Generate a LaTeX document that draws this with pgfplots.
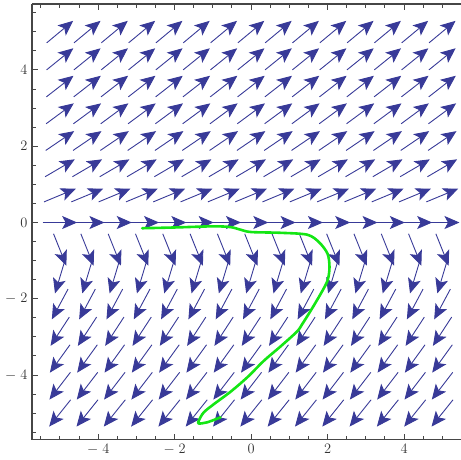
\documentclass[border=0pt]{standalone}
\usepackage{pgfplots}
\pgfplotsset{compat=1.18}
\usepackage{pgfplotstable}
\usetikzlibrary{arrows.meta}
\definecolor{vecblue}{RGB}{56,58,152}
\definecolor{framegray}{RGB}{70,70,70}
\definecolor{pen}{RGB}{20,230,20}

% grid point x, y and arrow vector u, v (arrows centred on the grid point)
\pgfplotstableread{
x y u v
-5 -5 -0.5622 -0.7028
-4.2857 -5 -0.5622 -0.7028
-3.5714 -5 -0.5622 -0.7028
-2.8571 -5 -0.5622 -0.7028
-2.1429 -5 -0.5622 -0.7028
-1.4286 -5 -0.5622 -0.7028
-0.7143 -5 -0.5622 -0.7028
0 -5 -0.5622 -0.7028
0.7143 -5 -0.5622 -0.7028
1.4286 -5 -0.5622 -0.7028
2.1429 -5 -0.5622 -0.7028
2.8571 -5 -0.5622 -0.7028
3.5714 -5 -0.5622 -0.7028
4.2857 -5 -0.5622 -0.7028
5 -5 -0.5622 -0.7028
-5 -4.2857 -0.5476 -0.7142
-4.2857 -4.2857 -0.5476 -0.7142
-3.5714 -4.2857 -0.5476 -0.7142
-2.8571 -4.2857 -0.5476 -0.7142
-2.1429 -4.2857 -0.5476 -0.7142
-1.4286 -4.2857 -0.5476 -0.7142
-0.7143 -4.2857 -0.5476 -0.7142
0 -4.2857 -0.5476 -0.7142
0.7143 -4.2857 -0.5476 -0.7142
1.4286 -4.2857 -0.5476 -0.7142
2.1429 -4.2857 -0.5476 -0.7142
2.8571 -4.2857 -0.5476 -0.7142
3.5714 -4.2857 -0.5476 -0.7142
4.2857 -4.2857 -0.5476 -0.7142
5 -4.2857 -0.5476 -0.7142
-5 -3.5714 -0.5259 -0.7304
-4.2857 -3.5714 -0.5259 -0.7304
-3.5714 -3.5714 -0.5259 -0.7304
-2.8571 -3.5714 -0.5259 -0.7304
-2.1429 -3.5714 -0.5259 -0.7304
-1.4286 -3.5714 -0.5259 -0.7304
-0.7143 -3.5714 -0.5259 -0.7304
0 -3.5714 -0.5259 -0.7304
0.7143 -3.5714 -0.5259 -0.7304
1.4286 -3.5714 -0.5259 -0.7304
2.1429 -3.5714 -0.5259 -0.7304
2.8571 -3.5714 -0.5259 -0.7304
3.5714 -3.5714 -0.5259 -0.7304
4.2857 -3.5714 -0.5259 -0.7304
5 -3.5714 -0.5259 -0.7304
-5 -2.8571 -0.4905 -0.7546
-4.2857 -2.8571 -0.4905 -0.7546
-3.5714 -2.8571 -0.4905 -0.7546
-2.8571 -2.8571 -0.4905 -0.7546
-2.1429 -2.8571 -0.4905 -0.7546
-1.4286 -2.8571 -0.4905 -0.7546
-0.7143 -2.8571 -0.4905 -0.7546
0 -2.8571 -0.4905 -0.7546
0.7143 -2.8571 -0.4905 -0.7546
1.4286 -2.8571 -0.4905 -0.7546
2.1429 -2.8571 -0.4905 -0.7546
2.8571 -2.8571 -0.4905 -0.7546
3.5714 -2.8571 -0.4905 -0.7546
4.2857 -2.8571 -0.4905 -0.7546
5 -2.8571 -0.4905 -0.7546
-5 -2.1429 -0.4235 -0.7942
-4.2857 -2.1429 -0.4235 -0.7942
-3.5714 -2.1429 -0.4235 -0.7942
-2.8571 -2.1429 -0.4235 -0.7942
-2.1429 -2.1429 -0.4235 -0.7942
-1.4286 -2.1429 -0.4235 -0.7942
-0.7143 -2.1429 -0.4235 -0.7942
0 -2.1429 -0.4235 -0.7942
0.7143 -2.1429 -0.4235 -0.7942
1.4286 -2.1429 -0.4235 -0.7942
2.1429 -2.1429 -0.4235 -0.7942
2.8571 -2.1429 -0.4235 -0.7942
3.5714 -2.1429 -0.4235 -0.7942
4.2857 -2.1429 -0.4235 -0.7942
5 -2.1429 -0.4235 -0.7942
-5 -1.4286 -0.2587 -0.8620
-4.2857 -1.4286 -0.2587 -0.8620
-3.5714 -1.4286 -0.2587 -0.8620
-2.8571 -1.4286 -0.2587 -0.8620
-2.1429 -1.4286 -0.2587 -0.8620
-1.4286 -1.4286 -0.2587 -0.8620
-0.7143 -1.4286 -0.2587 -0.8620
0 -1.4286 -0.2587 -0.8620
0.7143 -1.4286 -0.2587 -0.8620
1.4286 -1.4286 -0.2587 -0.8620
2.1429 -1.4286 -0.2587 -0.8620
2.8571 -1.4286 -0.2587 -0.8620
3.5714 -1.4286 -0.2587 -0.8620
4.2857 -1.4286 -0.2587 -0.8620
5 -1.4286 -0.2587 -0.8620
-5 -0.7143 0.3343 -0.8357
-4.2857 -0.7143 0.3343 -0.8357
-3.5714 -0.7143 0.3343 -0.8357
-2.8571 -0.7143 0.3343 -0.8357
-2.1429 -0.7143 0.3343 -0.8357
-1.4286 -0.7143 0.3343 -0.8357
-0.7143 -0.7143 0.3343 -0.8357
0 -0.7143 0.3343 -0.8357
0.7143 -0.7143 0.3343 -0.8357
1.4286 -0.7143 0.3343 -0.8357
2.1429 -0.7143 0.3343 -0.8357
2.8571 -0.7143 0.3343 -0.8357
3.5714 -0.7143 0.3343 -0.8357
4.2857 -0.7143 0.3343 -0.8357
5 -0.7143 0.3343 -0.8357
-5 0 0.9 0
-4.2857 0 0.9 0
-3.5714 0 0.9 0
-2.8571 0 0.9 0
-2.1429 0 0.9 0
-1.4286 0 0.9 0
-0.7143 0 0.9 0
0 0 0.9 0
0.7143 0 0.9 0
1.4286 0 0.9 0
2.1429 0 0.9 0
2.8571 0 0.9 0
3.5714 0 0.9 0
4.2857 0 0.9 0
5 0 0.9 0
-5 0.7143 0.8308 0.3461
-4.2857 0.7143 0.8308 0.3461
-3.5714 0.7143 0.8308 0.3461
-2.8571 0.7143 0.8308 0.3461
-2.1429 0.7143 0.8308 0.3461
-1.4286 0.7143 0.8308 0.3461
-0.7143 0.7143 0.8308 0.3461
0 0.7143 0.8308 0.3461
0.7143 0.7143 0.8308 0.3461
1.4286 0.7143 0.8308 0.3461
2.1429 0.7143 0.8308 0.3461
2.8571 0.7143 0.8308 0.3461
3.5714 0.7143 0.8308 0.3461
4.2857 0.7143 0.8308 0.3461
5 0.7143 0.8308 0.3461
-5 1.4286 0.7757 0.4563
-4.2857 1.4286 0.7757 0.4563
-3.5714 1.4286 0.7757 0.4563
-2.8571 1.4286 0.7757 0.4563
-2.1429 1.4286 0.7757 0.4563
-1.4286 1.4286 0.7757 0.4563
-0.7143 1.4286 0.7757 0.4563
0 1.4286 0.7757 0.4563
0.7143 1.4286 0.7757 0.4563
1.4286 1.4286 0.7757 0.4563
2.1429 1.4286 0.7757 0.4563
2.8571 1.4286 0.7757 0.4563
3.5714 1.4286 0.7757 0.4563
4.2857 1.4286 0.7757 0.4563
5 1.4286 0.7757 0.4563
-5 2.1429 0.7436 0.5070
-4.2857 2.1429 0.7436 0.5070
-3.5714 2.1429 0.7436 0.5070
-2.8571 2.1429 0.7436 0.5070
-2.1429 2.1429 0.7436 0.5070
-1.4286 2.1429 0.7436 0.5070
-0.7143 2.1429 0.7436 0.5070
0 2.1429 0.7436 0.5070
0.7143 2.1429 0.7436 0.5070
1.4286 2.1429 0.7436 0.5070
2.1429 2.1429 0.7436 0.5070
2.8571 2.1429 0.7436 0.5070
3.5714 2.1429 0.7436 0.5070
4.2857 2.1429 0.7436 0.5070
5 2.1429 0.7436 0.5070
-5 2.8571 0.7232 0.5357
-4.2857 2.8571 0.7232 0.5357
-3.5714 2.8571 0.7232 0.5357
-2.8571 2.8571 0.7232 0.5357
-2.1429 2.8571 0.7232 0.5357
-1.4286 2.8571 0.7232 0.5357
-0.7143 2.8571 0.7232 0.5357
0 2.8571 0.7232 0.5357
0.7143 2.8571 0.7232 0.5357
1.4286 2.8571 0.7232 0.5357
2.1429 2.8571 0.7232 0.5357
2.8571 2.8571 0.7232 0.5357
3.5714 2.8571 0.7232 0.5357
4.2857 2.8571 0.7232 0.5357
5 2.8571 0.7232 0.5357
-5 3.5714 0.7092 0.5540
-4.2857 3.5714 0.7092 0.5540
-3.5714 3.5714 0.7092 0.5540
-2.8571 3.5714 0.7092 0.5540
-2.1429 3.5714 0.7092 0.5540
-1.4286 3.5714 0.7092 0.5540
-0.7143 3.5714 0.7092 0.5540
0 3.5714 0.7092 0.5540
0.7143 3.5714 0.7092 0.5540
1.4286 3.5714 0.7092 0.5540
2.1429 3.5714 0.7092 0.5540
2.8571 3.5714 0.7092 0.5540
3.5714 3.5714 0.7092 0.5540
4.2857 3.5714 0.7092 0.5540
5 3.5714 0.7092 0.5540
-5 4.2857 0.6991 0.5668
-4.2857 4.2857 0.6991 0.5668
-3.5714 4.2857 0.6991 0.5668
-2.8571 4.2857 0.6991 0.5668
-2.1429 4.2857 0.6991 0.5668
-1.4286 4.2857 0.6991 0.5668
-0.7143 4.2857 0.6991 0.5668
0 4.2857 0.6991 0.5668
0.7143 4.2857 0.6991 0.5668
1.4286 4.2857 0.6991 0.5668
2.1429 4.2857 0.6991 0.5668
2.8571 4.2857 0.6991 0.5668
3.5714 4.2857 0.6991 0.5668
4.2857 4.2857 0.6991 0.5668
5 4.2857 0.6991 0.5668
-5 5 0.6914 0.5762
-4.2857 5 0.6914 0.5762
-3.5714 5 0.6914 0.5762
-2.8571 5 0.6914 0.5762
-2.1429 5 0.6914 0.5762
-1.4286 5 0.6914 0.5762
-0.7143 5 0.6914 0.5762
0 5 0.6914 0.5762
0.7143 5 0.6914 0.5762
1.4286 5 0.6914 0.5762
2.1429 5 0.6914 0.5762
2.8571 5 0.6914 0.5762
3.5714 5 0.6914 0.5762
4.2857 5 0.6914 0.5762
5 5 0.6914 0.5762
}\field

\begin{document}
\begin{tikzpicture}
\useasboundingbox (-32pt,-20pt) rectangle (428.6pt,439.5pt);
\begin{axis}[
 at={(0,0)},anchor=south west,
 scale only axis,width=428.6pt,height=435.5pt,
 xmin=-5.73,xmax=5.49,ymin=-5.70,ymax=5.73,
 axis y line*=left,
 axis line style={framegray,line width=1.1pt},
 xtick={-4,-2,0,2,4},ytick={-4,-2,0,2,4},
 xticklabels={$-\;4$,$-\;2$,$0$,$2$,$4$},
 yticklabels={$-\;4$,$-\;2$,$0$,$2$,$4$},
 minor xtick={-5.5,-5,...,5.5},minor ytick={-5.5,-5,...,5.5},
 tick align=inside,
 major tick length=6pt,minor tick length=3.5pt,
 tick style={framegray,line width=1pt},
 ticklabel style={font=\fontsize{14}{16}\selectfont,text=black!80},
 xticklabel style={yshift=-1pt},
 yticklabel style={xshift=-1pt},
 clip=false]
\addplot[vecblue,line width=0.9pt,
 quiver={u=\thisrow{u},v=\thisrow{v},
  every arrow/.append style={-{Stealth[length=15pt,width=13pt,inset=3.5pt]}}}]
 table[x expr=\thisrow{x}-0.5*\thisrow{u},y expr=\thisrow{y}-0.5*\thisrow{v}] {\field};
\addplot[pen,line width=2.6pt,smooth,tension=0.5,line cap=round,line join=round] coordinates {
 (-2.85,-0.15) (-2.0,-0.13) (-1.0,-0.1) (-0.54,-0.12) (-0.27,-0.19) (0,-0.25)
 (0.77,-0.27) (1.47,-0.32) (1.78,-0.52) (2.0,-0.82) (2.05,-1.17) (2.0,-1.52)
 (1.82,-1.87) (1.56,-2.31) (1.34,-2.66) (1.2,-2.86) (0.77,-3.25)
 (0.34,-3.62) (-0.1,-4.06) (-0.54,-4.44) (-0.97,-4.76) (-1.24,-4.98) (-1.37,-5.2)
 (-1.37,-5.27) (-1.15,-5.24) (-0.8,-5.11)};
\end{axis}
\end{tikzpicture}
\end{document}
